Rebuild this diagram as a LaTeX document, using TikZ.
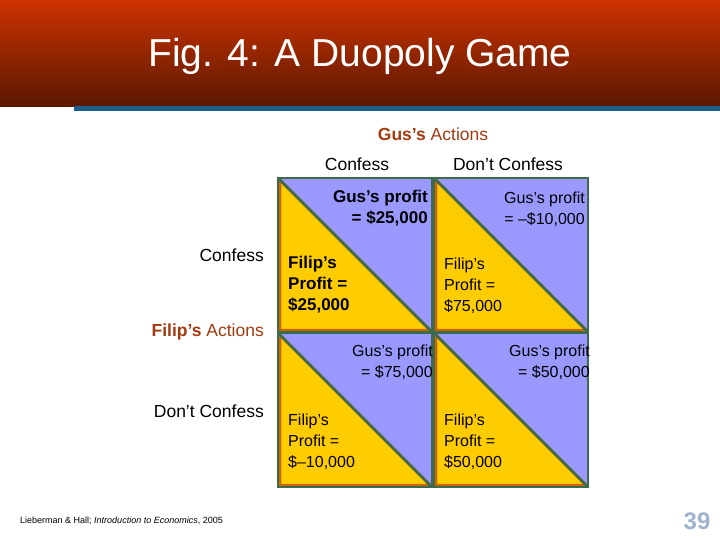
\documentclass[tikz,border=0pt]{standalone}
\usepackage{fontspec}
\setmainfont{Liberation Sans}
\begin{document}
\begin{tikzpicture}[x=1pt,y=-1pt,
  lbl/.style={font=\fontsize{17.5}{20}\selectfont, inner sep=0pt},
  cell/.style={inner sep=0pt, align=left}]
\definecolor{tb}{HTML}{CC3300}\definecolor{bb}{HTML}{5A1800}
\definecolor{yel}{HTML}{FFCC00}\definecolor{blu}{HTML}{9999FF}
\definecolor{org}{HTML}{CC6600}\definecolor{grn}{HTML}{3D6B4D}
\definecolor{act}{HTML}{A33A10}\definecolor{ln}{HTML}{1F5F8B}
\definecolor{pgc}{HTML}{9FB4CC}
\useasboundingbox (0,0) rectangle (720,540);
\fill[white] (0,0) rectangle (720,540);
\shade[top color=tb,bottom color=bb] (0,0) rectangle (720,107);
\fill[ln] (74,106) rectangle (720,111);
\node[white,font=\fontsize{39}{44}\selectfont] (title) at (360,56) {Fig. 4: A Duopoly Game};
\foreach \x/\y/\n in {278/178/a,434/178/b,278/333/c,434/333/d}{
  \fill[blu] (\x,\y) rectangle ++(154,154);
  \filldraw[fill=yel,draw=org,line width=2.5pt] (\x+2,\y+2) -- (\x+2,\y+152) -- (\x+152,\y+152) -- cycle;
  \draw[grn,line width=2.5pt] (\x,\y) rectangle ++(154,154);
  \draw[grn,line width=2.5pt] (\x,\y) -- (\x+154,\y+154);
  \coordinate (\n) at (\x,\y);
}
\node[lbl,text=act] (ga) at (433,134) {\textbf{Gus’s} Actions};
\node[lbl] (gc) at (357,164) {Confess};
\node[lbl] (gd) at (508,164) {Don’t Confess};
\node[lbl,anchor=east] (fc) at (264,255) {Confess};
\node[lbl,anchor=east,text=act] (fa) at (264,332) {\textbf{Filip’s} Actions};
\node[lbl,anchor=east] (fd) at (264,411) {Don’t Confess};
\node[cell,anchor=east,align=right,font=\fontsize{17}{21}\selectfont\bfseries] (g1) at (428,208) {Gus’s profit\\= \$25,000};
\node[cell,anchor=west,font=\fontsize{17}{21}\selectfont\bfseries] (f1) at (288,285) {Filip’s\\Profit =\\\$25,000};
\node[cell,anchor=east,align=right,font=\fontsize{16}{21}\selectfont] (g2) at (585,209) {Gus’s profit\\= –\$10,000};
\node[cell,anchor=west,font=\fontsize{16}{21}\selectfont] (f2) at (444,286) {Filip’s\\Profit =\\\$75,000};
\node[cell,anchor=east,align=right,font=\fontsize{16}{21}\selectfont] (g3) at (433,362) {Gus’s profit\\= \$75,000};
\node[cell,anchor=west,font=\fontsize{16}{21}\selectfont] (f3) at (288,442) {Filip’s\\Profit =\\\$–10,000};
\node[cell,anchor=east,align=right,font=\fontsize{16}{21}\selectfont] (g4) at (590,362) {Gus’s profit\\= \$50,000};
\node[cell,anchor=west,font=\fontsize{16}{21}\selectfont] (f4) at (444,442) {Filip’s\\Profit =\\\$50,000};
\node[anchor=west,font=\fontsize{9}{10}\selectfont,inner sep=0pt] (foot) at (20,521) {Lieberman \& Hall; \textit{Introduction to Economics}, 2005};
\node[font=\fontsize{24}{26}\selectfont\bfseries,text=pgc,inner sep=0pt] (pg) at (697,521) {39};
\end{tikzpicture}
\end{document}
